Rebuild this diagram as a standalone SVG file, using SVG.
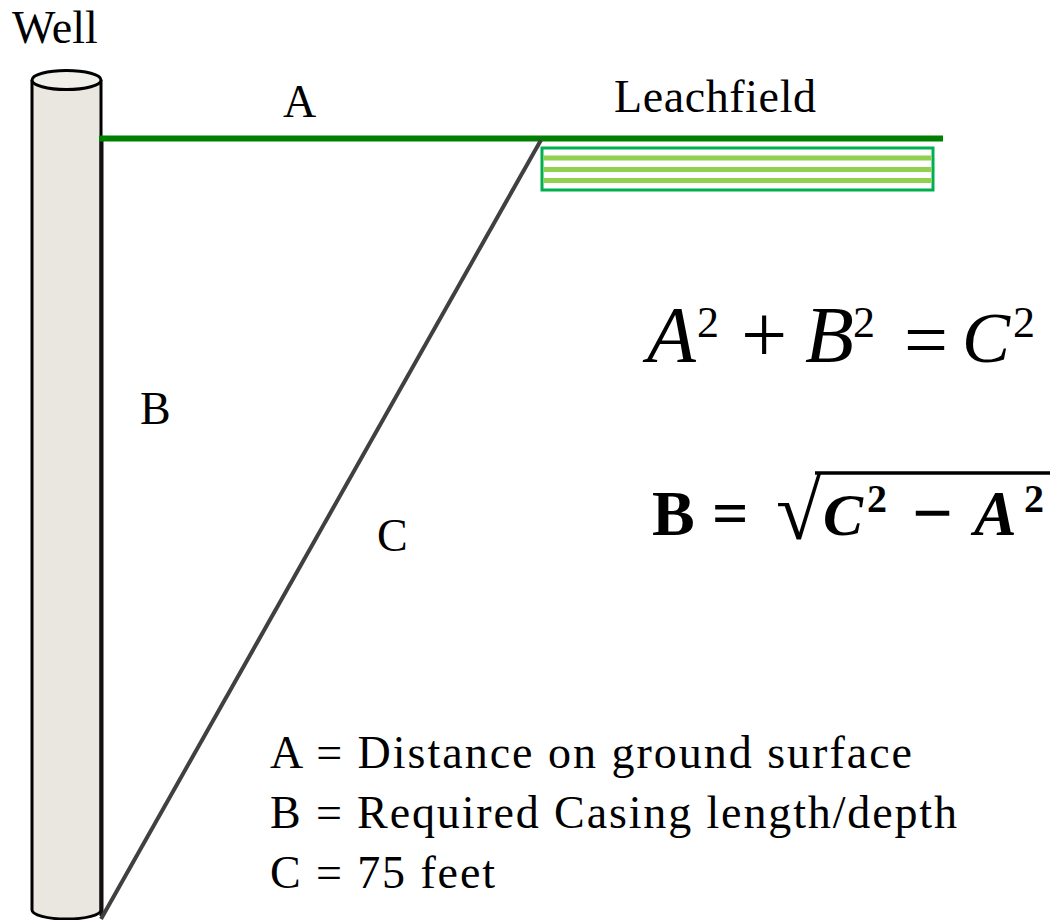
<svg xmlns="http://www.w3.org/2000/svg" width="1050" height="920" viewBox="0 0 1050 920">
<style>
.lbl{font-family:"Liberation Serif",serif;font-size:46px;fill:#000}
.math{font-family:"Liberation Serif",serif;fill:#000}
.it{font-style:italic}
.bd{font-weight:bold}
</style>
<rect width="1050" height="920" fill="#fff"/>
<g id="well">
<path d="M32,80 L32,910 A34.5,9 0 0 0 101,910 L101,80" fill="#E9E7E0" stroke="#000" stroke-width="3"/>
<ellipse cx="66.5" cy="80" rx="34.5" ry="9.5" fill="#F0EFEA" stroke="#000" stroke-width="3"/>
<text class="lbl" x="12" y="43">Well</text>
</g>
<g id="leachfield">
<rect x="542" y="148" width="391" height="42" fill="#fff" stroke="#00B050" stroke-width="3"/>
<g stroke="#92D050" stroke-width="5">
<line x1="543.5" y1="158" x2="931.5" y2="158"/>
<line x1="543.5" y1="169.5" x2="931.5" y2="169.5"/>
<line x1="543.5" y1="180.5" x2="931.5" y2="180.5"/>
</g>
<text class="lbl" x="614" y="112" textLength="202">Leachfield</text>
</g>
<g id="connectors">
<line id="B-line" x1="101.5" y1="140" x2="101.5" y2="916" stroke="#111" stroke-width="4"/>
<line id="A-line" x1="99" y1="138.5" x2="943" y2="138.5" stroke="#007F00" stroke-width="6"/>
<line id="C-line" x1="541" y1="140" x2="101" y2="919" stroke="#404040" stroke-width="4"/>
</g>
<g id="labels">
<text class="lbl" x="283" y="117">A</text>
<text class="lbl" x="140" y="424">B</text>
<text class="lbl" x="377" y="551">C</text>
</g>
<g id="formula1">
<text class="math" y="362"><tspan class="it" x="647" font-size="80">A</tspan><tspan x="697" y="337" font-size="44">2</tspan><tspan x="741" y="362" font-size="82">+</tspan><tspan class="it" x="805" font-size="80">B</tspan><tspan x="853" y="337" font-size="44">2</tspan><tspan x="904" y="366" font-size="78">=</tspan><tspan class="it" x="962" y="362" font-size="72">C</tspan><tspan x="1013" y="337" font-size="44">2</tspan></text>
</g>
<g id="formula2">
<text class="math bd" y="535"><tspan x="652" font-size="64">B</tspan><tspan x="712" font-size="64">=</tspan><tspan x="776" y="539" font-size="82" font-weight="normal">√</tspan><tspan class="it" x="823" y="535" font-size="60">C</tspan><tspan x="867" y="512" font-size="40">2</tspan><tspan x="912" y="537" font-size="72">−</tspan><tspan class="it" x="974" y="535" font-size="64">A</tspan><tspan x="1024" y="512" font-size="40">2</tspan></text>
<line x1="815" y1="473" x2="1050" y2="473" stroke="#000" stroke-width="3.5"/>
</g>
<g id="legend">
<text class="lbl" x="270" y="768" textLength="642">A = Distance on ground surface</text>
<text class="lbl" x="270" y="828" textLength="687">B = Required Casing length/depth</text>
<text class="lbl" x="270" y="888" textLength="225">C = 75 feet</text>
</g>
</svg>
